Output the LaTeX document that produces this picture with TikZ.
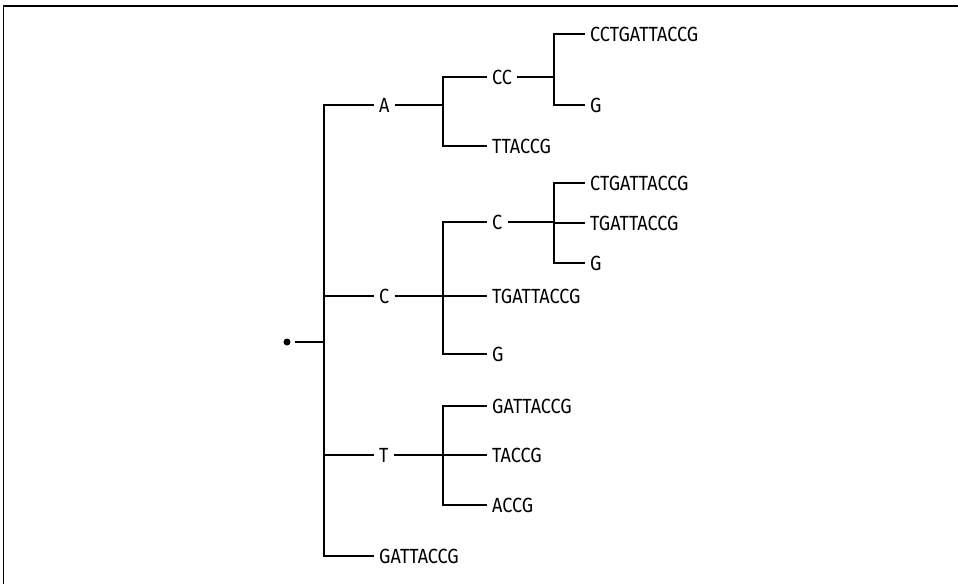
\documentclass[tikz,border=0pt]{standalone}
\usepackage{fontspec}
\setmainfont{Fira Sans}[FakeStretch=0.88]
\begin{document}
\begin{tikzpicture}[x=1pt, y=-1pt]
    % Define clean styles
    \tikzset{
        label/.style={
            anchor=west,
            inner sep=5pt,
            font=\fontsize{20.5}{24}\selectfont
        },
        branch/.style={
            line width=1.9pt,
            black
        },
        rootdot/.style={
            circle,
            fill=black,
            minimum size=7pt,
            inner sep=0pt
        }
    }

    % Canvas and frame
    \useasboundingbox (0,0) rectangle (958,584);
    \draw[line width=1.5pt] (3.5,584) -- (3.5,6) -- (958,6);

    % Root
    \node[rootdot] (root) at (287,342) {};
    \coordinate (trunk) at (324,342);

    % First level
    \node[label] (a) at (374,105) {A};
    \node[label] (c) at (374,296) {C};
    \node[label] (t) at (374,455) {T};
    \node[label] (gattaccg) at (374,556) {GATTACCG};

    % Second level
    \coordinate (ja) at (443,105);
    \coordinate (jc) at (443,296);
    \coordinate (jt) at (443,455);
    \node[label] (a_cc) at (487,77) {CC};
    \node[label] (a_ttaccg) at (487,146) {TTACCG};
    \node[label] (c_c) at (487,222) {C};
    \node[label] (c_tgattaccg) at (487,296) {TGATTACCG};
    \node[label] (c_g) at (487,354) {G};
    \node[label] (t_gattaccg) at (487,406) {GATTACCG};
    \node[label] (t_taccg) at (487,455) {TACCG};
    \node[label] (t_accg) at (487,505) {ACCG};

    % Third level
    \coordinate (jacc) at (554,77);
    \coordinate (jcc) at (554,222);
    \node[label] (acc_cctgattaccg) at (585,34) {CCTGATTACCG};
    \node[label] (acc_g) at (585,105) {G};
    \node[label] (cc_ctgattaccg) at (585,183) {CTGATTACCG};
    \node[label] (cc_tgattaccg) at (585,223) {TGATTACCG};
    \node[label] (cc_g) at (585,263) {G};

    % Root connections
    \draw[branch, shorten <=4.5pt] (root) -- (trunk);
    \foreach \n in {a,c,t,gattaccg}
        \draw[branch] (trunk) |- (\n.west);

    % Second level connections
    \draw[branch] (a.east) -- (ja);
    \draw[branch] (c.east) -- (jc);
    \draw[branch] (t.east) -- (jt);
    \foreach \n in {a_cc,a_ttaccg}
        \draw[branch] (ja) |- (\n.west);
    \foreach \n in {c_c,c_tgattaccg,c_g}
        \draw[branch] (jc) |- (\n.west);
    \foreach \n in {t_gattaccg,t_taccg,t_accg}
        \draw[branch] (jt) |- (\n.west);

    % Third level connections
    \draw[branch] (a_cc.east) -- (jacc);
    \draw[branch] (c_c.east) -- (jcc);
    \foreach \n in {acc_cctgattaccg,acc_g}
        \draw[branch] (jacc) |- (\n.west);
    \foreach \n in {cc_ctgattaccg,cc_tgattaccg,cc_g}
        \draw[branch] (jcc) |- (\n.west);
\end{tikzpicture}
\end{document}
